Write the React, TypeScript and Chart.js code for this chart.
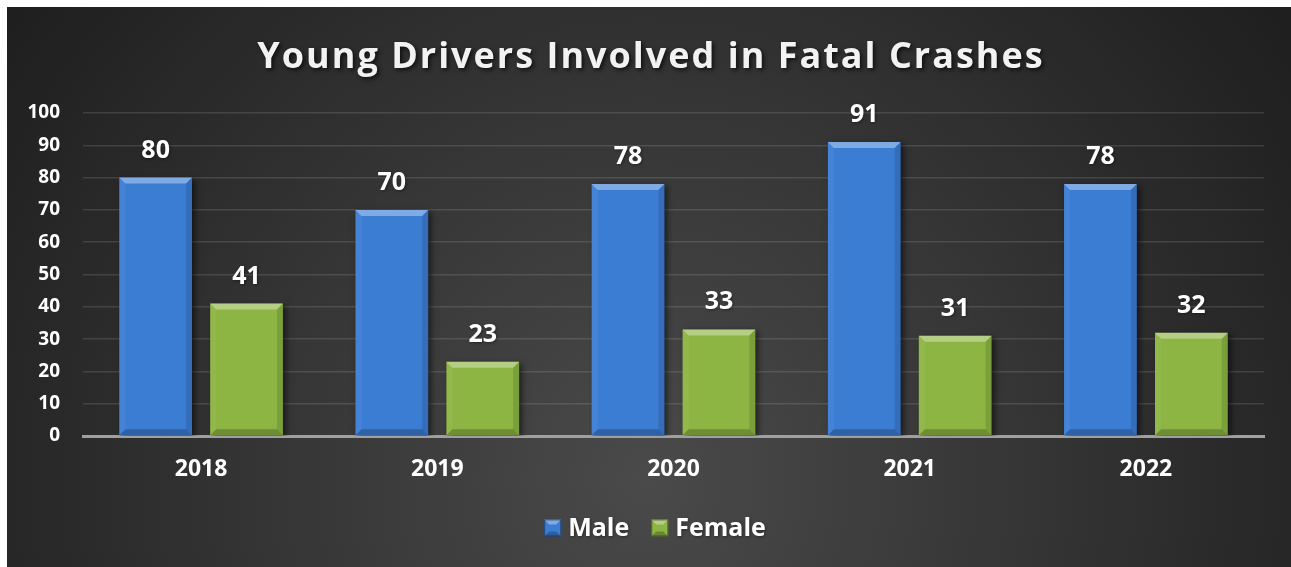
import React, { useEffect, useRef } from "react";
import { Chart, registerables } from "chart.js";

Chart.register(...registerables);

const titleText = "Young Drivers Involved in Fatal Crashes";
const categories = ["2018", "2019", "2020", "2021", "2022"];
const maleValues = [80, 70, 78, 91, 78];
const femaleValues = [41, 23, 33, 31, 32];
const seriesNames = ["Male", "Female"];
const yMin = 0;
const yMax = 100;
const yStep = 10;

const FONT = "'Open Sans', 'Noto Sans', sans-serif";
const BLUE = "#3c7dd4";
const GREEN = "#8db543";

const bgPlugin = {
  id: "bg",
  beforeDraw(chart: any) {
    const { ctx, width, height } = chart;
    ctx.save();
    const g = ctx.createRadialGradient(640, 470, 0, 640, 470, 780);
    g.addColorStop(0, "#4a4a4a");
    g.addColorStop(1, "#1f1f1f");
    ctx.fillStyle = g;
    ctx.fillRect(0, 0, width, height);
    ctx.restore();
  },
};

const shadowPlugin = {
  id: "barShadow",
  beforeDatasetsDraw(chart: any) {
    const ctx = chart.ctx;
    ctx.save();
    ctx.shadowColor = "rgba(0,0,0,0.55)";
    ctx.shadowBlur = 6;
    ctx.shadowOffsetX = 3;
    ctx.shadowOffsetY = 2;
  },
  afterDatasetsDraw(chart: any) {
    chart.ctx.restore();
  },
};

const bevelPlugin = {
  id: "bevel",
  afterDatasetsDraw(chart: any) {
    const ctx = chart.ctx;
    chart.data.datasets.forEach((ds: any, di: number) => {
      const meta = chart.getDatasetMeta(di);
      meta.data.forEach((el: any, i: number) => {
        const p = el.getProps(["x", "y", "base", "width"], true);
        const l = p.x - p.width / 2;
        const r = p.x + p.width / 2;
        const t = p.y;
        const b = p.base;
        const s = 6;
        ctx.save();
        const poly = (pts: number[][], fill: string) => {
          ctx.beginPath();
          ctx.moveTo(pts[0][0], pts[0][1]);
          for (let k = 1; k < pts.length; k++) ctx.lineTo(pts[k][0], pts[k][1]);
          ctx.closePath();
          ctx.fillStyle = fill;
          ctx.fill();
        };
        poly([[l, t], [r, t], [r - s, t + s], [l + s, t + s]], "rgba(255,255,255,0.35)");
        poly([[l, t], [l + s, t + s], [l + s, b - s], [l, b]], "rgba(255,255,255,0.05)");
        poly([[r, t], [r - s, t + s], [r - s, b - s], [r, b]], "rgba(0,0,0,0.12)");
        poly([[l, b], [l + s, b - s], [r - s, b - s], [r, b]], "rgba(0,0,0,0.22)");
        // data label
        ctx.fillStyle = "#ffffff";
        ctx.font = `bold 25px ${FONT}`;
        ctx.textAlign = "center";
        ctx.textBaseline = "alphabetic";
        ctx.shadowColor = "rgba(0,0,0,0.4)";
        ctx.shadowBlur = 3;
        ctx.shadowOffsetX = 1;
        ctx.shadowOffsetY = 1;
        ctx.fillText(String(ds.data[i]), p.x, t - 20);
        ctx.restore();
      });
    });
  },
};

const titleLegendPlugin = {
  id: "titleLegend",
  afterDraw(chart: any) {
    const { ctx } = chart;
    ctx.save();
    // title
    ctx.font = `bold 36px ${FONT}`;
    (ctx as any).letterSpacing = "2px";
    ctx.fillStyle = "#f2f2f2";
    ctx.textAlign = "center";
    ctx.textBaseline = "alphabetic";
    ctx.shadowColor = "rgba(0,0,0,0.7)";
    ctx.shadowBlur = 4;
    ctx.shadowOffsetX = 2;
    ctx.shadowOffsetY = 2;
    ctx.fillText(titleText, 644, 61);
    (ctx as any).letterSpacing = "0px";
    // legend
    ctx.shadowColor = "rgba(0,0,0,0.4)";
    ctx.shadowBlur = 3;
    ctx.shadowOffsetX = 1;
    ctx.shadowOffsetY = 1;
    ctx.font = `bold 25px ${FONT}`;
    ctx.textAlign = "left";
    const box = 17;
    const gapBoxText = 7;
    const gapItems = 22;
    const colors = [BLUE, GREEN];
    const widths = seriesNames.map((n) => ctx.measureText(n).width);
    const total = widths.reduce((a, w) => a + box + gapBoxText + w, 0) + gapItems * (seriesNames.length - 1);
    let x = 648 - total / 2;
    const cy = 521;
    seriesNames.forEach((n, i) => {
      ctx.save();
      ctx.shadowColor = "transparent";
      const l = x, t = cy - box / 2, r = x + box, b = cy + box / 2, s = 5;
      ctx.fillStyle = colors[i];
      ctx.fillRect(l, t, box, box);
      ctx.beginPath();
      ctx.moveTo(l, t); ctx.lineTo(r, t); ctx.lineTo(r - s, t + s); ctx.lineTo(l + s, t + s); ctx.closePath();
      ctx.fillStyle = "rgba(255,255,255,0.35)";
      ctx.fill();
      ctx.beginPath();
      ctx.moveTo(l, b); ctx.lineTo(r, b); ctx.lineTo(r - s, b - s); ctx.lineTo(l + s, b - s); ctx.closePath();
      ctx.fillStyle = "rgba(0,0,0,0.25)";
      ctx.fill();
      ctx.strokeStyle = "rgba(0,0,0,0.4)";
      ctx.lineWidth = 1;
      ctx.strokeRect(l + 0.5, t + 0.5, box - 1, box - 1);
      ctx.restore();
      ctx.fillStyle = "#ffffff";
      ctx.textBaseline = "middle";
      ctx.fillText(n, x + box + gapBoxText, cy + 1);
      x += box + gapBoxText + widths[i] + gapItems;
    });
    ctx.restore();
  },
};

export default function App() {
  const ref = useRef<HTMLCanvasElement | null>(null);
  useEffect(() => {
    if (!ref.current) return;
    const chart = new Chart(ref.current, {
      type: "bar",
      data: {
        labels: categories,
        datasets: [
          { label: seriesNames[0], data: maleValues, backgroundColor: BLUE },
          { label: seriesNames[1], data: femaleValues, backgroundColor: GREEN },
        ],
      },
      options: {
        responsive: false,
        animation: false,
        layout: { padding: { top: 106, right: 27, bottom: 0, left: 0 } },
        plugins: {
          legend: { display: false },
          title: { display: false },
          tooltip: { enabled: false },
        },
        datasets: { bar: { categoryPercentage: 0.77, barPercentage: 0.8 } },
        scales: {
          x: {
            afterFit: (s: any) => { s.height = 131; },
            grid: { display: false, drawTicks: false },
            border: { display: true, color: "#a0a0a0", width: 3 },
            ticks: { color: "#ffffff", font: { family: FONT, size: 23, weight: "bold" }, padding: 20 },
          },
          y: {
            min: yMin,
            max: yMax,
            afterFit: (s: any) => { s.width = 76; },
            grid: { color: "rgba(255,255,255,0.12)", lineWidth: 1.5, drawTicks: false },
            border: { display: false },
            ticks: { stepSize: yStep, color: "#ffffff", font: { family: FONT, size: 19, weight: "bold" }, padding: 23 },
          },
        },
      },
      plugins: [bgPlugin, shadowPlugin, bevelPlugin, titleLegendPlugin],
    } as any);
    return () => chart.destroy();
  }, []);
  return (
    <canvas
      ref={ref}
      width={1284}
      height={560}
      style={{ display: "block", position: "fixed", left: 7, top: 7 }}
    />
  );
}
